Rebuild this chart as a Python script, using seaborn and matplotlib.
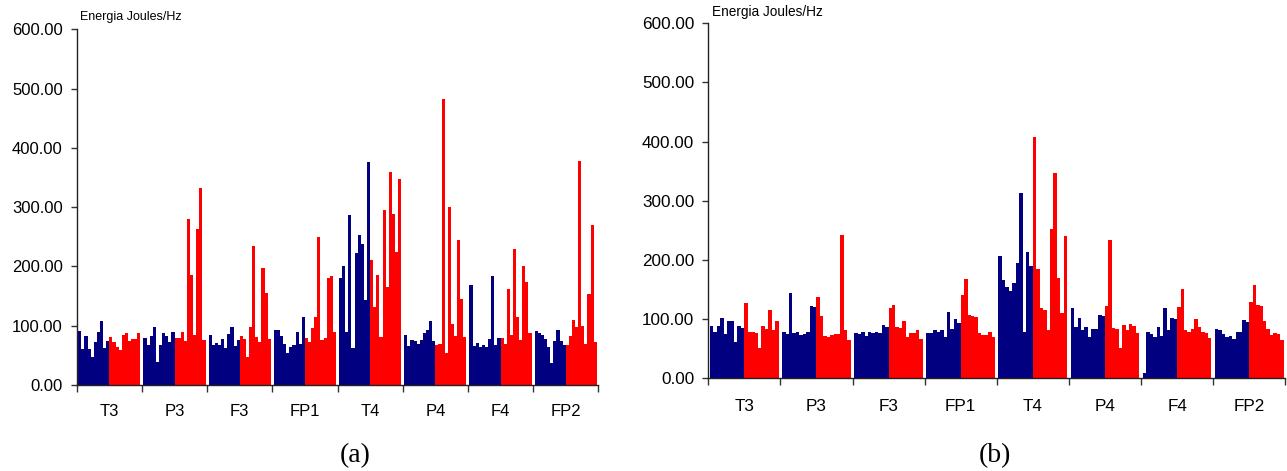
import pandas as pd
import seaborn as sns
import matplotlib.pyplot as plt
from matplotlib.ticker import FixedLocator, FormatStrFormatter

channels = ['T3', 'P3', 'F3', 'FP1', 'T4', 'P4', 'F4', 'FP2']

# (a) energia por canal, 10 barras azules y 10 rojas
a_blue = [
    [91, 61, 83, 60, 47, 73, 89, 108, 62, 75],
    [79, 67, 83, 98, 39, 68, 87, 82, 73, 89],
    [84, 68, 71, 67, 77, 63, 86, 97, 66, 76],
    [92, 93, 82, 69, 54, 64, 68, 89, 69, 115],
    [180, 200, 89, 286, 62, 223, 253, 238, 143, 376],
    [84, 66, 76, 75, 69, 76, 88, 92, 108, 74],
    [168, 66, 71, 64, 68, 64, 77, 184, 67, 80],
    [91, 87, 84, 78, 64, 37, 74, 93, 75, 68],
]
a_red = [
    [81, 72, 64, 59, 84, 88, 75, 77, 77, 88],
    [79, 79, 89, 75, 280, 185, 85, 263, 332, 76],
    [82, 77, 48, 97, 235, 81, 73, 198, 155, 77],
    [80, 72, 96, 114, 249, 76, 79, 181, 184, 90],
    [210, 132, 185, 81, 295, 166, 359, 288, 225, 347],
    [67, 69, 483, 54, 300, 103, 82, 244, 145, 81],
    [80, 69, 162, 85, 229, 114, 76, 201, 174, 88],
    [68, 82, 109, 97, 378, 99, 69, 154, 269, 72],
]

# (b)
b_blue = [
    [88, 79, 88, 102, 75, 97, 97, 62, 89, 85],
    [79, 75, 144, 77, 79, 73, 75, 78, 122, 121],
    [77, 75, 79, 72, 78, 77, 79, 77, 90, 87],
    [77, 77, 82, 78, 82, 70, 112, 83, 100, 94],
    [207, 166, 154, 148, 161, 195, 313, 79, 214, 190],
    [118, 87, 102, 82, 87, 70, 83, 83, 107, 106],
    [9, 78, 75, 70, 87, 72, 119, 82, 102, 101],
    [83, 82, 75, 69, 72, 66, 79, 79, 99, 95],
]
b_red = [
    [127, 78, 79, 77, 52, 89, 84, 115, 82, 96],
    [137, 105, 72, 70, 73, 75, 75, 242, 82, 65],
    [118, 124, 87, 85, 96, 70, 77, 77, 81, 67],
    [140, 167, 107, 105, 104, 77, 73, 73, 78, 69],
    [408, 185, 118, 115, 81, 252, 347, 170, 111, 241],
    [122, 234, 85, 83, 52, 90, 81, 92, 88, 77],
    [121, 151, 81, 78, 84, 100, 87, 78, 77, 68],
    [129, 158, 124, 122, 96, 83, 73, 77, 75, 65],
]

colors = {'azul': '#000080', 'rojo': '#FF0000'}
slot = 21


def make_frame(blue, red):
    rows = []
    for g in range(len(channels)):
        for j, v in enumerate(blue[g]):
            rows.append((g * slot + 1 + j, v, 'azul'))
        for j, v in enumerate(red[g]):
            rows.append((g * slot + 11 + j, v, 'rojo'))
    return pd.DataFrame(rows, columns=['pos', 'energia', 'grupo'])


def draw_panel(ax, df, pad, size):
    sns.barplot(data=df, x='pos', y='energia', hue='grupo', palette=colors,
                native_scale=True, width=1, dodge=False, errorbar=None,
                saturation=1, linewidth=0, legend=False, orient='x', ax=ax)
    ax.set_xlim(0, slot * len(channels))
    ax.set_ylim(0, 600)
    ax.set_yticks(range(0, 601, 100))
    ax.yaxis.set_major_formatter(FormatStrFormatter('%.2f'))
    ax.set_xticks([g * slot + 10.5 for g in range(len(channels))])
    ax.set_xticklabels(channels)
    ax.xaxis.set_minor_locator(FixedLocator([g * slot for g in range(len(channels) + 1)]))
    ax.tick_params(axis='x', which='major', bottom=True, length=0, pad=pad,
                   labelsize=size, labelcolor='black')
    ax.tick_params(axis='x', which='minor', bottom=True, length=5, width=1,
                   direction='out', color='#333333')
    ax.tick_params(axis='y', which='major', left=True, length=4, width=1, direction='out',
                   pad=6, labelsize=size, color='#333333', labelcolor='black')
    ax.set_xlabel('')
    ax.set_ylabel('')
    for s in ['top', 'right']:
        ax.spines[s].set_visible(False)
    for s in ['left', 'bottom']:
        ax.spines[s].set_color('#222222')
        ax.spines[s].set_linewidth(1)


sns.set_style('white')
plt.rcParams['font.family'] = ['Liberation Sans', 'DejaVu Sans']

fig = plt.figure(figsize=(12.87, 4.71), dpi=100)
ax1 = fig.add_axes([0.0596, 0.1826, 0.4053, 0.7554])
ax2 = fig.add_axes([0.5503, 0.1968, 0.4484, 0.7539])

draw_panel(ax1, make_frame(a_blue, a_red), 14, 12)
draw_panel(ax2, make_frame(b_blue, b_red), 15, 12.3)

fig.text(80 / 1287, 1 - 20 / 471, 'Energia Joules/Hz', fontsize=9, va='baseline',
         color='black')
fig.text(712 / 1287, 1 - 16 / 471, 'Energia Joules/Hz', fontsize=9.8, va='baseline',
         color='black')
fig.text(355 / 1287, 1 - 456 / 471, '(a)', fontsize=20, ha='center', va='center',
         family='Liberation Serif', color='black')
fig.text(995 / 1287, 1 - 456 / 471, '(b)', fontsize=20, ha='center', va='center',
         family='Liberation Serif', color='black')

fig.savefig('out.png', dpi=100)
